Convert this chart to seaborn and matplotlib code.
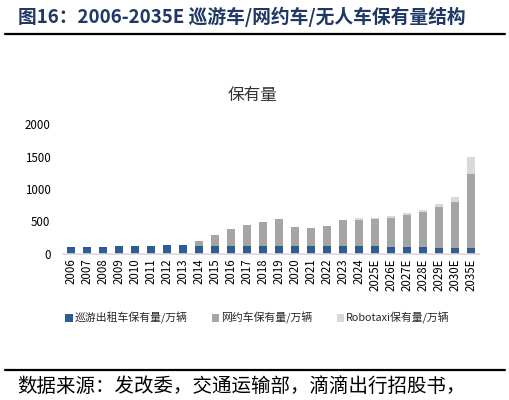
import matplotlib
matplotlib.use("Agg")
import matplotlib.pyplot as plt
import seaborn as sns
import numpy as np
import pandas as pd
from matplotlib.patches import Patch

years = ["2006", "2007", "2008", "2009", "2010", "2011", "2012", "2013", "2014", "2015",
         "2016", "2017", "2018", "2019", "2020", "2021", "2022", "2023", "2024", "2025E",
         "2026E", "2027E", "2028E", "2029E", "2030E", "2035E"]
taxi = [110, 110, 110, 120, 128, 128, 135, 136, 122, 128,
        128, 128, 120, 130, 130, 130, 120, 120, 120, 120,
        112, 112, 102, 97, 87, 97]
ride = [0, 0, 0, 0, 0, 0, 0, 0, 78, 162,
        262, 312, 375, 410, 290, 270, 315, 405, 410, 415,
        443, 488, 541, 622, 713, 1127]
robo = [0, 0, 0, 0, 0, 0, 0, 0, 0, 0,
        0, 0, 0, 0, 0, 0, 0, 0, 20, 25,
        25, 27, 40, 46, 77, 265]
series_names = ["巡游出租车保有量/万辆", "网约车保有量/万辆", "Robotaxi保有量/万辆"]
colors = ["#2F5C97", "#A5A5A5", "#D9D9D9"]

sns.set_theme(style="white")
plt.rcParams['font.family'] = ['Noto Sans CJK SC', 'DejaVu Sans']

df = pd.DataFrame({"year": years, "taxi": taxi, "ride": ride, "robo": robo})
df["lvl1"] = df["taxi"]
df["lvl2"] = df["taxi"] + df["ride"]
df["lvl3"] = df["lvl2"] + df["robo"]

fig = plt.figure(figsize=(5.1, 4.0), dpi=100)
ax = fig.add_axes([0.1235, 0.365, 0.816, 0.325])

for col, c in [("lvl3", colors[2]), ("lvl2", colors[1]), ("lvl1", colors[0])]:
    sns.barplot(data=df, x="year", y=col, color=c, width=0.48, ax=ax,
                saturation=1, linewidth=0, order=years)

ax.set_ylim(0, 2000)
ax.set_yticks([0, 500, 1000, 1500, 2000])
ax.set_xlim(-0.5, len(years) - 0.5)
ax.set_xlabel("")
ax.set_ylabel("")
for s in ["top", "right", "left"]:
    ax.spines[s].set_visible(False)
ax.spines["bottom"].set_color("#D9D9D9")
ax.spines["bottom"].set_linewidth(1.2)
ax.tick_params(axis="x", labelrotation=90, labelsize=8.3, length=0, pad=3, colors="#000000")
ax.tick_params(axis="y", labelsize=8.3, length=0, pad=9, colors="#000000")
ax.grid(False)
ax.set_facecolor("white")

fig.text(0.496, 0.762, "保有量", ha="center", va="center", fontsize=12, color="#333333")

handles = [Patch(facecolor=c, edgecolor="none") for c in colors]
fig.legend(handles, series_names, loc="center", bbox_to_anchor=(0.505, 0.205), ncol=3,
           frameon=False, fontsize=7.8, handlelength=0.7, handleheight=0.7,
           handletextpad=0.2, columnspacing=2.2)

fig.text(0.035, 0.958, "图16：2006-2035E 巡游车/网约车/无人车保有量结构", ha="left", va="center",
         fontsize=13.5, fontweight="bold", color="#1F3864")
fig.add_artist(plt.Line2D([0.01, 0.99], [0.915, 0.915], color="black", linewidth=1.6,
                          transform=fig.transFigure))
fig.add_artist(plt.Line2D([0.01, 0.99], [0.076, 0.076], color="black", linewidth=1.6,
                          transform=fig.transFigure))
fig.text(0.033, 0.035, "数据来源：发改委，交通运输部，滴滴出行招股书，", ha="left", va="center",
         fontsize=14, color="black")

fig.savefig("out.png", dpi=100, facecolor="white")
